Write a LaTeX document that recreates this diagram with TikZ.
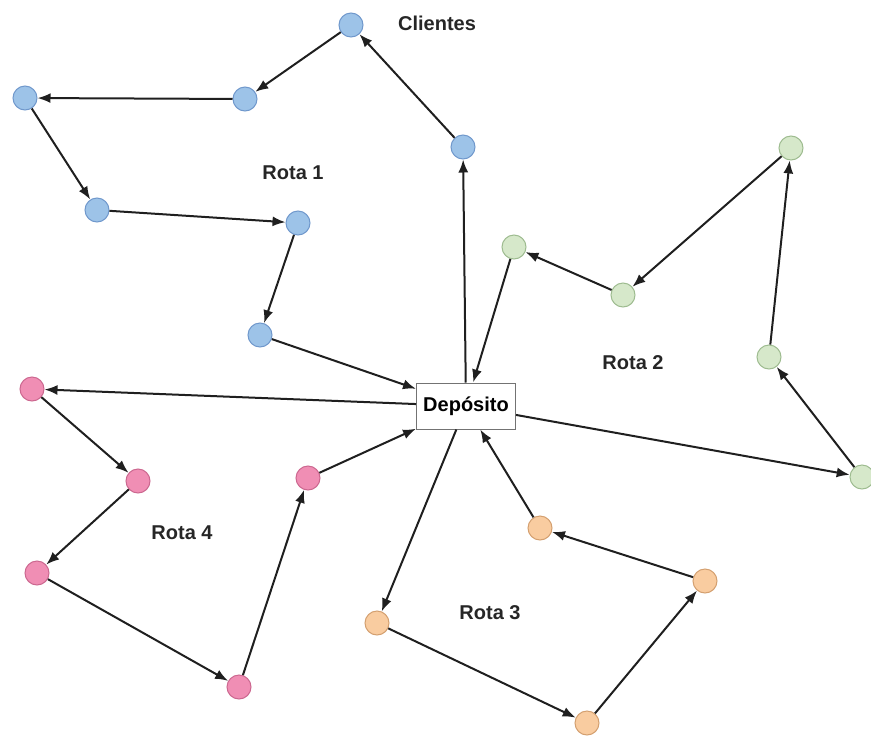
\documentclass[tikz,border=0pt]{standalone}
\usepackage{fontspec}
\setmainfont{Liberation Sans}
\usetikzlibrary{arrows.meta}

\definecolor{bluefill}{RGB}{157,195,232}
\definecolor{bluedraw}{RGB}{112,152,204}
\definecolor{greenfill}{RGB}{214,232,202}
\definecolor{greendraw}{RGB}{158,188,144}
\definecolor{orangefill}{RGB}{249,204,160}
\definecolor{orangedraw}{RGB}{212,160,112}
\definecolor{pinkfill}{RGB}{240,142,180}
\definecolor{pinkdraw}{RGB}{204,104,144}

\tikzset{
	client/.style={circle, minimum size=24pt, inner sep=0pt, line width=1pt},
	bluec/.style={client, fill=bluefill, draw=bluedraw},
	greenc/.style={client, fill=greenfill, draw=greendraw},
	orangec/.style={client, fill=orangefill, draw=orangedraw},
	pinkc/.style={client, fill=pinkfill, draw=pinkdraw},
	depot/.style={draw=black!55, fill=white, line width=1pt, minimum width=99pt, minimum height=46pt, inner sep=0pt, font=\bfseries\fontsize{20}{24}\selectfont},
	tag/.style={font=\bfseries\fontsize{20}{24}\selectfont, text=black!85},
	route/.style={->, line width=2pt, draw=black!88},
}

\begin{document}
\begin{tikzpicture}[x=1pt, y=-1pt, >={Latex[length=13pt,width=10pt]}]

		\useasboundingbox (0,0) rectangle (871,737);

			\node[depot] (dep) at (466,406) {Depósito};

			% Rota 1
			\node[bluec] (b1) at (351,25) {};
			\node[bluec] (b2) at (245,99) {};
			\node[bluec] (b3) at (25,98) {};
			\node[bluec] (b4) at (97,210) {};
			\node[bluec] (b5) at (298,223) {};
			\node[bluec] (b6) at (260,335) {};
			\node[bluec] (b7) at (463,147) {};

			% Rota 2
			\node[greenc] (g1) at (514,247) {};
			\node[greenc] (g2) at (623,295) {};
			\node[greenc] (g3) at (791,148) {};
			\node[greenc] (g4) at (769,357) {};
			\node[greenc] (g5) at (862,477) {};

			% Rota 3
			\node[orangec] (o1) at (540,528) {};
			\node[orangec] (o2) at (705,581) {};
			\node[orangec] (o3) at (587,723) {};
			\node[orangec] (o4) at (377,623) {};

			% Rota 4
			\node[pinkc] (p1) at (32,389) {};
			\node[pinkc] (p2) at (138,481) {};
			\node[pinkc] (p3) at (37,573) {};
			\node[pinkc] (p4) at (239,687) {};
			\node[pinkc] (p5) at (308,478) {};

			\node[tag] (clientes) at (437,23) {Clientes};
			\node[tag] (rota1) at (293,173) {Rota 1};
			\node[tag] (rota2) at (633,363) {Rota 2};
			\node[tag] (rota3) at (490,613) {Rota 3};
			\node[tag] (rota4) at (182,533) {Rota 4};

			\foreach \a/\b in {dep/b7, b7/b1, b1/b2, b2/b3, b3/b4, b4/b5, b5/b6, b6/dep} {
				\draw[route] (\a) -- (\b);
			}

			\foreach \a/\b in {dep/g5, g5/g4, g4/g3, g3/g2, g2/g1, g1/dep} {
				\draw[route] (\a) -- (\b);
			}

			\foreach \a/\b in {dep/o4, o4/o3, o3/o2, o2/o1, o1/dep} {
				\draw[route] (\a) -- (\b);
			}

			\foreach \a/\b in {dep/p1, p1/p2, p2/p3, p3/p4, p4/p5, p5/dep} {
				\draw[route] (\a) -- (\b);
			}

		\end{tikzpicture}
\end{document}
